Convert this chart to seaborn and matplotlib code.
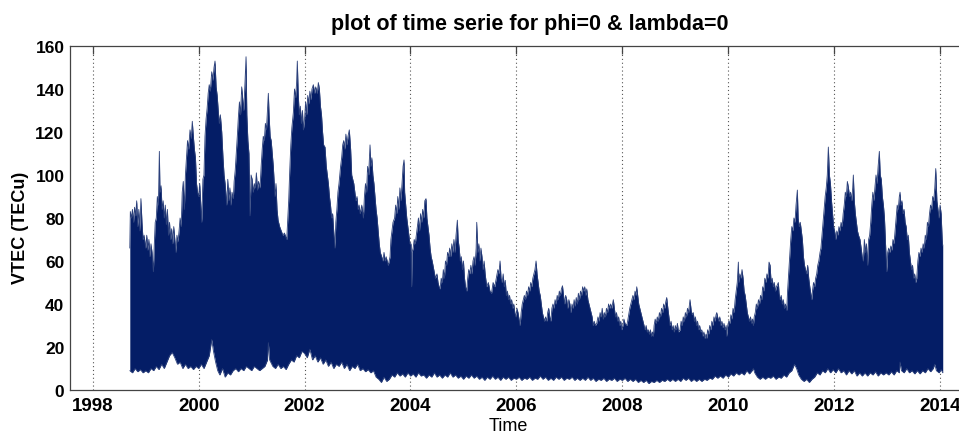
import numpy as np
import pandas as pd
import seaborn as sns
import matplotlib
matplotlib.use("Agg")
import matplotlib.pyplot as plt
from matplotlib import font_manager

# Upper envelope of the daily VTEC series (decimal year, TECu)
upper_envelope = [
    (1998.700, 66), (1998.710, 83), (1998.730, 80), (1998.750, 84), (1998.770, 78), (1998.790, 85),
    (1998.810, 81), (1998.830, 88), (1998.850, 76), (1998.870, 84), (1998.890, 74), (1998.910, 89),
    (1998.930, 78), (1998.950, 70), (1998.970, 72), (1999.000, 66), (1999.020, 72), (1999.040, 65),
    (1999.060, 70), (1999.080, 62), (1999.100, 68), (1999.120, 64), (1999.145, 55), (1999.160, 66),
    (1999.180, 78), (1999.200, 80), (1999.220, 90), (1999.240, 86), (1999.258, 111), (1999.270, 92),
    (1999.290, 95), (1999.310, 84), (1999.330, 88), (1999.350, 80), (1999.370, 86), (1999.390, 77),
    (1999.410, 84), (1999.430, 72), (1999.450, 78), (1999.470, 70), (1999.490, 75), (1999.510, 68),
    (1999.530, 76), (1999.550, 70), (1999.573, 64), (1999.590, 72), (1999.610, 69), (1999.630, 74),
    (1999.650, 80), (1999.670, 76), (1999.690, 92), (1999.710, 97), (1999.730, 84), (1999.750, 100),
    (1999.770, 108), (1999.790, 116), (1999.810, 112), (1999.837, 121), (1999.860, 117), (1999.880, 125),
    (1999.900, 118), (1999.920, 112), (1999.940, 108), (1999.960, 96), (1999.980, 92), (2000.000, 90),
    (2000.020, 96), (2000.040, 86), (2000.058, 78), (2000.080, 98), (2000.100, 100), (2000.120, 118),
    (2000.140, 126), (2000.160, 131), (2000.180, 138), (2000.200, 142), (2000.220, 139), (2000.247, 148),
    (2000.270, 144), (2000.290, 150), (2000.309, 153), (2000.330, 141), (2000.350, 137), (2000.370, 130),
    (2000.390, 124), (2000.410, 128), (2000.436, 120), (2000.460, 108), (2000.480, 100), (2000.500, 96),
    (2000.530, 86), (2000.550, 98), (2000.570, 88), (2000.590, 94), (2000.610, 86), (2000.630, 92),
    (2000.655, 89), (2000.670, 97), (2000.690, 102), (2000.710, 110), (2000.730, 118), (2000.750, 127),
    (2000.770, 134), (2000.790, 128), (2000.813, 141), (2000.830, 136), (2000.850, 130), (2000.870, 140),
    (2000.895, 155), (2000.910, 128), (2000.930, 116), (2000.950, 110), (2000.970, 81), (2000.990, 100),
    (2001.010, 98), (2001.030, 92), (2001.050, 96), (2001.070, 94), (2001.090, 101), (2001.110, 93),
    (2001.130, 97), (2001.159, 94), (2001.180, 104), (2001.200, 112), (2001.220, 118), (2001.240, 116),
    (2001.260, 124), (2001.280, 121), (2001.300, 130), (2001.316, 138), (2001.330, 128), (2001.350, 118),
    (2001.370, 116), (2001.390, 110), (2001.410, 104), (2001.442, 90), (2001.460, 96), (2001.480, 84),
    (2001.500, 79), (2001.530, 76), (2001.560, 74), (2001.590, 72), (2001.620, 73), (2001.663, 70),
    (2001.680, 78), (2001.700, 88), (2001.720, 102), (2001.740, 114), (2001.760, 122), (2001.788, 129),
    (2001.810, 140), (2001.830, 136), (2001.850, 143), (2001.863, 153), (2001.880, 138), (2001.900, 128),
    (2001.920, 132), (2001.940, 124), (2001.960, 130), (2001.977, 121), (2002.000, 126), (2002.020, 134),
    (2002.040, 128), (2002.060, 137), (2002.080, 133), (2002.100, 139), (2002.120, 135), (2002.140, 140),
    (2002.166, 142), (2002.190, 138), (2002.210, 141), (2002.240, 138), (2002.260, 143), (2002.280, 140),
    (2002.300, 132), (2002.320, 128), (2002.340, 120), (2002.360, 114), (2002.386, 113), (2002.410, 104),
    (2002.430, 100), (2002.450, 96), (2002.470, 90), (2002.490, 86), (2002.510, 80), (2002.530, 82),
    (2002.550, 74), (2002.575, 66), (2002.590, 78), (2002.610, 84), (2002.630, 92), (2002.650, 96),
    (2002.680, 104), (2002.700, 108), (2002.720, 114), (2002.740, 116), (2002.760, 112), (2002.780, 119),
    (2002.800, 114), (2002.820, 118), (2002.845, 121), (2002.870, 112), (2002.890, 100), (2002.910, 98),
    (2002.930, 96), (2002.950, 92), (2002.970, 88), (2002.990, 90), (2003.010, 84), (2003.030, 86),
    (2003.050, 82), (2003.080, 86), (2003.110, 80), (2003.130, 90), (2003.150, 96), (2003.170, 92),
    (2003.190, 104), (2003.210, 100), (2003.236, 114), (2003.250, 104), (2003.270, 108), (2003.290, 100),
    (2003.310, 96), (2003.330, 90), (2003.350, 84), (2003.370, 80), (2003.390, 74), (2003.410, 68),
    (2003.430, 64), (2003.457, 62), (2003.480, 60), (2003.500, 64), (2003.520, 60), (2003.540, 62),
    (2003.560, 60), (2003.580, 58), (2003.614, 62), (2003.630, 70), (2003.650, 74), (2003.670, 78),
    (2003.700, 80), (2003.720, 86), (2003.740, 82), (2003.760, 90), (2003.780, 84), (2003.800, 94),
    (2003.820, 88), (2003.840, 96), (2003.860, 104), (2003.878, 107), (2003.890, 92), (2003.910, 86),
    (2003.930, 80), (2003.950, 76), (2003.970, 72), (2003.990, 68), (2004.010, 68), (2004.020, 48),
    (2004.030, 64), (2004.050, 66), (2004.070, 70), (2004.090, 68), (2004.110, 72), (2004.130, 76),
    (2004.150, 80), (2004.170, 74), (2004.190, 82), (2004.210, 78), (2004.230, 84), (2004.250, 80),
    (2004.270, 88), (2004.293, 89), (2004.310, 80), (2004.330, 76), (2004.350, 72), (2004.370, 66),
    (2004.390, 62), (2004.410, 60), (2004.440, 56), (2004.470, 52), (2004.500, 54), (2004.520, 50),
    (2004.540, 48), (2004.558, 47), (2004.580, 52), (2004.600, 50), (2004.620, 56), (2004.640, 52),
    (2004.660, 60), (2004.680, 58), (2004.700, 64), (2004.720, 62), (2004.740, 66), (2004.760, 62),
    (2004.780, 68), (2004.800, 64), (2004.820, 70), (2004.840, 64), (2004.860, 72), (2004.885, 79),
    (2004.900, 70), (2004.920, 66), (2004.940, 60), (2004.960, 62), (2004.980, 56), (2005.000, 60),
    (2005.020, 52), (2005.040, 48), (2005.062, 46), (2005.080, 52), (2005.100, 56), (2005.120, 54),
    (2005.140, 58), (2005.160, 54), (2005.180, 60), (2005.200, 62), (2005.220, 58), (2005.240, 66),
    (2005.251, 78), (2005.270, 64), (2005.290, 68), (2005.310, 60), (2005.330, 66), (2005.350, 62),
    (2005.370, 56), (2005.390, 60), (2005.410, 54), (2005.440, 48), (2005.470, 50), (2005.500, 46),
    (2005.530, 45), (2005.560, 50), (2005.590, 48), (2005.620, 52), (2005.650, 56), (2005.670, 54),
    (2005.691, 60), (2005.710, 52), (2005.730, 50), (2005.750, 54), (2005.770, 48), (2005.790, 51),
    (2005.810, 44), (2005.830, 46), (2005.850, 42), (2005.870, 44), (2005.890, 40), (2005.910, 42),
    (2005.930, 38), (2005.950, 40), (2005.970, 36), (2005.990, 34), (2006.010, 38), (2006.030, 36),
    (2006.050, 33), (2006.069, 30), (2006.090, 36), (2006.110, 40), (2006.130, 42), (2006.150, 44),
    (2006.170, 42), (2006.190, 46), (2006.210, 44), (2006.230, 48), (2006.250, 46), (2006.270, 50),
    (2006.290, 48), (2006.310, 52), (2006.330, 54), (2006.350, 56), (2006.371, 60), (2006.390, 54),
    (2006.410, 50), (2006.430, 46), (2006.450, 44), (2006.470, 40), (2006.490, 36), (2006.510, 34),
    (2006.530, 32), (2006.550, 34), (2006.573, 32), (2006.590, 36), (2006.610, 38), (2006.630, 34),
    (2006.650, 32), (2006.670, 38), (2006.690, 40), (2006.710, 38), (2006.730, 42), (2006.750, 40),
    (2006.770, 44), (2006.790, 42), (2006.810, 46), (2006.830, 44), (2006.850, 47), (2006.870, 48.5),
    (2006.890, 44), (2006.910, 40), (2006.930, 44), (2006.950, 42), (2006.970, 38), (2006.990, 42),
    (2007.010, 40), (2007.030, 36), (2007.050, 40), (2007.070, 38), (2007.090, 42), (2007.107, 39),
    (2007.130, 43), (2007.150, 40), (2007.170, 45), (2007.190, 42), (2007.210, 46), (2007.230, 44),
    (2007.250, 48), (2007.270, 46), (2007.290, 48), (2007.310, 44), (2007.328, 47), (2007.350, 42),
    (2007.370, 40), (2007.390, 38), (2007.410, 36), (2007.430, 34), (2007.450, 30), (2007.470, 32),
    (2007.490, 30), (2007.517, 31), (2007.540, 34), (2007.560, 32), (2007.580, 36), (2007.600, 34),
    (2007.620, 38), (2007.640, 33), (2007.660, 36), (2007.680, 34), (2007.700, 38), (2007.720, 36),
    (2007.740, 40), (2007.760, 38), (2007.780, 40), (2007.800, 38), (2007.830, 42), (2007.850, 38),
    (2007.870, 34), (2007.890, 36), (2007.910, 32), (2007.930, 34), (2007.950, 30), (2007.970, 32),
    (2007.990, 28), (2008.010, 30), (2008.030, 33), (2008.050, 31), (2008.083, 30), (2008.100, 32),
    (2008.120, 35), (2008.140, 38), (2008.160, 40), (2008.180, 42), (2008.200, 44), (2008.220, 42),
    (2008.240, 46), (2008.260, 44), (2008.272, 48), (2008.290, 44), (2008.310, 40), (2008.330, 38),
    (2008.350, 36), (2008.370, 34), (2008.390, 32), (2008.410, 30), (2008.430, 28), (2008.450, 30),
    (2008.470, 27), (2008.490, 28), (2008.510, 26), (2008.530, 28), (2008.550, 25), (2008.570, 27),
    (2008.586, 25), (2008.600, 30), (2008.620, 33), (2008.640, 31), (2008.660, 34), (2008.680, 32),
    (2008.700, 36), (2008.720, 34), (2008.740, 38), (2008.760, 36), (2008.780, 40), (2008.800, 38),
    (2008.820, 41), (2008.838, 43), (2008.860, 38), (2008.880, 34), (2008.900, 30), (2008.920, 32),
    (2008.940, 28), (2008.960, 30), (2008.980, 27), (2009.000, 30), (2009.020, 28), (2009.040, 31),
    (2009.060, 27), (2009.090, 28), (2009.110, 32), (2009.130, 30), (2009.150, 34), (2009.170, 32),
    (2009.190, 36), (2009.210, 34), (2009.230, 38), (2009.250, 36), (2009.278, 42), (2009.300, 37),
    (2009.320, 35), (2009.340, 36), (2009.360, 32), (2009.380, 34), (2009.400, 30), (2009.420, 32),
    (2009.440, 28), (2009.460, 30), (2009.480, 27), (2009.500, 28), (2009.520, 25), (2009.540, 27),
    (2009.560, 24), (2009.580, 26), (2009.594, 24), (2009.610, 28), (2009.630, 26), (2009.650, 30),
    (2009.670, 28), (2009.690, 32), (2009.710, 30), (2009.730, 34), (2009.750, 32), (2009.770, 35),
    (2009.783, 36), (2009.800, 34), (2009.820, 32), (2009.840, 34), (2009.860, 30), (2009.880, 32),
    (2009.900, 29), (2009.920, 31), (2009.940, 28), (2009.960, 30), (2009.971, 25), (2009.990, 30),
    (2010.010, 32), (2010.030, 31), (2010.050, 35), (2010.070, 33), (2010.090, 38), (2010.110, 36),
    (2010.130, 42), (2010.150, 46), (2010.170, 50), (2010.191, 59.5), (2010.200, 50), (2010.220, 54),
    (2010.240, 52), (2010.260, 56), (2010.280, 52), (2010.300, 46), (2010.320, 44), (2010.340, 40),
    (2010.360, 36), (2010.380, 34), (2010.400, 32), (2010.420, 34), (2010.440, 31), (2010.460, 33),
    (2010.474, 30), (2010.490, 34), (2010.510, 36), (2010.530, 40), (2010.550, 38), (2010.570, 42),
    (2010.590, 40), (2010.610, 44), (2010.630, 42), (2010.650, 48), (2010.670, 46), (2010.690, 52),
    (2010.710, 50), (2010.730, 54), (2010.750, 52), (2010.770, 59.5), (2010.790, 58), (2010.810, 50),
    (2010.830, 52), (2010.850, 48), (2010.870, 50), (2010.890, 46), (2010.910, 48), (2010.946, 50),
    (2010.960, 45), (2010.980, 42), (2011.000, 44), (2011.020, 40), (2011.040, 42), (2011.060, 38),
    (2011.080, 40), (2011.104, 37), (2011.120, 46), (2011.140, 54), (2011.160, 62), (2011.180, 70),
    (2011.200, 76), (2011.220, 74), (2011.240, 80), (2011.260, 78), (2011.280, 86), (2011.305, 93),
    (2011.320, 80), (2011.340, 76), (2011.360, 78), (2011.380, 74), (2011.400, 70), (2011.420, 62),
    (2011.440, 58), (2011.460, 56), (2011.480, 54), (2011.500, 58), (2011.520, 52), (2011.540, 48),
    (2011.576, 42), (2011.590, 46), (2011.610, 50), (2011.630, 48), (2011.650, 52), (2011.670, 54),
    (2011.690, 58), (2011.710, 60), (2011.733, 64), (2011.750, 66), (2011.770, 72), (2011.790, 78),
    (2011.810, 84), (2011.830, 90), (2011.850, 94), (2011.870, 100), (2011.890, 113), (2011.910, 100),
    (2011.930, 96), (2011.950, 88), (2011.970, 82), (2011.990, 76), (2012.016, 73), (2012.030, 70),
    (2012.050, 74), (2012.070, 72), (2012.090, 76), (2012.110, 74), (2012.130, 78), (2012.150, 76),
    (2012.170, 82), (2012.190, 86), (2012.210, 92), (2012.230, 90), (2012.249, 97), (2012.270, 94),
    (2012.290, 90), (2012.310, 92), (2012.330, 88), (2012.350, 94), (2012.362, 100), (2012.380, 88),
    (2012.400, 82), (2012.420, 78), (2012.440, 74), (2012.460, 72), (2012.488, 70), (2012.510, 66),
    (2012.530, 62), (2012.550, 60), (2012.570, 70), (2012.590, 64), (2012.610, 68), (2012.630, 58),
    (2012.650, 70), (2012.670, 72), (2012.690, 78), (2012.710, 86), (2012.730, 92), (2012.750, 88),
    (2012.772, 95), (2012.790, 100), (2012.810, 96), (2012.830, 104), (2012.853, 111), (2012.870, 100),
    (2012.890, 98), (2012.910, 90), (2012.930, 86), (2012.950, 80), (2012.970, 68), (2012.993, 55),
    (2013.010, 64), (2013.030, 66), (2013.050, 64), (2013.070, 67), (2013.090, 65), (2013.110, 70),
    (2013.130, 68), (2013.150, 74), (2013.170, 80), (2013.190, 86), (2013.210, 84), (2013.230, 90),
    (2013.244, 92), (2013.260, 86), (2013.280, 88), (2013.300, 82), (2013.320, 84), (2013.340, 78),
    (2013.360, 76), (2013.380, 70), (2013.400, 72), (2013.420, 64), (2013.440, 60), (2013.460, 56),
    (2013.480, 58), (2013.500, 52), (2013.520, 54), (2013.540, 50), (2013.559, 52), (2013.580, 60),
    (2013.600, 64), (2013.620, 62), (2013.640, 66), (2013.660, 64), (2013.680, 68), (2013.700, 66),
    (2013.720, 72), (2013.740, 70), (2013.760, 78), (2013.780, 76), (2013.800, 82), (2013.820, 86),
    (2013.840, 84), (2013.860, 90), (2013.880, 88), (2013.900, 94), (2013.918, 103), (2013.940, 88),
    (2013.960, 84), (2013.980, 80), (2014.000, 86), (2014.020, 82), (2014.040, 70), (2014.050, 67),
]

# Lower envelope of the same series (decimal year, TECu)
lower_envelope = [
    (1998.700, 9), (1998.750, 8), (1998.800, 10), (1998.850, 8.5), (1998.900, 9.5), (1998.950, 8),
    (1999.000, 9), (1999.050, 8), (1999.100, 10), (1999.150, 9), (1999.200, 11), (1999.250, 9.5),
    (1999.300, 12), (1999.350, 10), (1999.400, 13), (1999.450, 16), (1999.500, 17.5), (1999.550, 15),
    (1999.600, 12), (1999.650, 13), (1999.700, 10), (1999.750, 12), (1999.800, 10), (1999.850, 11),
    (1999.900, 9.5), (1999.950, 11), (2000.000, 10), (2000.050, 12), (2000.100, 10), (2000.150, 13),
    (2000.200, 16), (2000.247, 23.5), (2000.280, 18), (2000.320, 13), (2000.360, 9), (2000.400, 7),
    (2000.450, 10), (2000.500, 6), (2000.550, 8), (2000.600, 7), (2000.650, 9), (2000.700, 10),
    (2000.750, 8.5), (2000.800, 10), (2000.850, 9), (2000.900, 11), (2000.950, 10), (2001.000, 9),
    (2001.050, 11), (2001.100, 10), (2001.150, 9), (2001.200, 10), (2001.250, 11), (2001.300, 14),
    (2001.316, 22), (2001.340, 14), (2001.400, 11), (2001.450, 10), (2001.500, 12), (2001.550, 10),
    (2001.600, 11), (2001.650, 9.5), (2001.700, 12), (2001.750, 14), (2001.800, 13), (2001.850, 16),
    (2001.900, 15), (2001.950, 18), (2002.000, 17), (2002.050, 15), (2002.100, 19), (2002.150, 14),
    (2002.200, 16), (2002.250, 13), (2002.300, 15), (2002.350, 12), (2002.400, 14), (2002.450, 11),
    (2002.500, 13), (2002.550, 10), (2002.600, 12), (2002.650, 11), (2002.700, 13), (2002.750, 10),
    (2002.800, 12), (2002.850, 9), (2002.900, 11), (2002.950, 10), (2003.000, 12), (2003.050, 9),
    (2003.100, 10), (2003.150, 8.5), (2003.200, 9.5), (2003.250, 8), (2003.300, 9), (2003.350, 6),
    (2003.400, 5), (2003.450, 3.5), (2003.500, 6), (2003.550, 4), (2003.600, 5), (2003.650, 7),
    (2003.700, 6), (2003.750, 8), (2003.800, 6.5), (2003.850, 7.5), (2003.900, 6), (2003.950, 8),
    (2004.000, 6.5), (2004.050, 7.5), (2004.100, 6), (2004.150, 8), (2004.200, 6.5), (2004.250, 7),
    (2004.300, 5.5), (2004.350, 7), (2004.400, 6), (2004.450, 8), (2004.500, 6), (2004.550, 7),
    (2004.600, 5.5), (2004.650, 7), (2004.700, 6), (2004.750, 8), (2004.800, 6), (2004.850, 7),
    (2004.900, 5.5), (2004.950, 6.5), (2005.000, 5), (2005.050, 6.5), (2005.100, 5.5), (2005.150, 7),
    (2005.200, 5.5), (2005.250, 6.5), (2005.300, 5), (2005.350, 6), (2005.400, 4.5), (2005.450, 6),
    (2005.500, 5), (2005.550, 6.5), (2005.600, 5), (2005.650, 6), (2005.700, 4.5), (2005.750, 6),
    (2005.800, 5), (2005.850, 6), (2005.900, 4.5), (2005.950, 5.5), (2006.000, 5), (2006.050, 6),
    (2006.100, 4.5), (2006.150, 5.5), (2006.200, 5), (2006.250, 6), (2006.300, 4.5), (2006.350, 5.5),
    (2006.400, 5), (2006.450, 6.5), (2006.500, 5), (2006.550, 6), (2006.600, 4.5), (2006.650, 5.5),
    (2006.700, 4.5), (2006.750, 6), (2006.800, 5), (2006.850, 6), (2006.900, 4.5), (2006.950, 5.5),
    (2007.000, 5), (2007.050, 6), (2007.100, 4.5), (2007.150, 5.5), (2007.200, 4.5), (2007.250, 5.5),
    (2007.300, 4.5), (2007.350, 6), (2007.400, 4.5), (2007.450, 5.5), (2007.500, 4), (2007.550, 5),
    (2007.600, 4.5), (2007.650, 5.5), (2007.700, 4), (2007.750, 5), (2007.800, 4.5), (2007.850, 5.5),
    (2007.900, 4), (2007.950, 5), (2008.000, 4.5), (2008.050, 5.5), (2008.100, 4), (2008.150, 5),
    (2008.200, 4), (2008.250, 5), (2008.300, 3.5), (2008.350, 4.5), (2008.400, 3.5), (2008.450, 4.5),
    (2008.500, 3), (2008.550, 4), (2008.600, 3.5), (2008.650, 4.5), (2008.700, 3.5), (2008.750, 4.5),
    (2008.800, 4), (2008.850, 5), (2008.900, 4), (2008.950, 5), (2009.000, 4), (2009.050, 5),
    (2009.100, 4), (2009.150, 5.5), (2009.200, 4.5), (2009.250, 5.5), (2009.300, 4), (2009.350, 5),
    (2009.400, 4), (2009.450, 5), (2009.500, 4), (2009.550, 5), (2009.600, 4.5), (2009.650, 5.5),
    (2009.700, 5), (2009.750, 6.5), (2009.800, 5.5), (2009.850, 6.5), (2009.900, 5.5), (2009.950, 7),
    (2010.000, 6), (2010.050, 7.5), (2010.100, 6.5), (2010.150, 8), (2010.200, 7), (2010.250, 8),
    (2010.300, 7), (2010.350, 9), (2010.400, 7.5), (2010.450, 9), (2010.474, 10), (2010.500, 8),
    (2010.550, 6), (2010.600, 5), (2010.650, 6), (2010.700, 5), (2010.750, 6), (2010.800, 5.5),
    (2010.850, 6.5), (2010.900, 5), (2010.950, 6), (2011.000, 5.5), (2011.050, 7), (2011.100, 6),
    (2011.150, 8), (2011.200, 9), (2011.250, 12), (2011.290, 10), (2011.330, 7), (2011.380, 5),
    (2011.430, 4), (2011.480, 5), (2011.530, 3.5), (2011.580, 5), (2011.630, 6), (2011.680, 8),
    (2011.730, 7), (2011.780, 9), (2011.830, 8), (2011.880, 10), (2011.930, 8), (2011.980, 9.5),
    (2012.030, 8), (2012.080, 10), (2012.130, 8), (2012.180, 9), (2012.230, 7), (2012.280, 9),
    (2012.330, 7.5), (2012.380, 9), (2012.430, 6.5), (2012.480, 8), (2012.530, 6.5), (2012.580, 8),
    (2012.630, 6.5), (2012.680, 8), (2012.730, 7), (2012.780, 8.5), (2012.830, 6.5), (2012.880, 8),
    (2012.930, 7), (2012.980, 8), (2013.030, 7), (2013.080, 8.5), (2013.130, 7), (2013.180, 9),
    (2013.230, 8), (2013.244, 13), (2013.270, 9), (2013.320, 8), (2013.370, 10), (2013.420, 8),
    (2013.470, 9), (2013.520, 7.5), (2013.570, 9), (2013.620, 7.5), (2013.670, 9), (2013.720, 8),
    (2013.770, 10), (2013.820, 8.5), (2013.870, 10), (2013.900, 12), (2013.930, 9), (2013.980, 8),
    (2014.020, 9.5), (2014.050, 8),
]

year_ticks = [1998, 2000, 2002, 2004, 2006, 2008, 2010, 2012, 2014]
tec_ticks = [0, 20, 40, 60, 80, 100, 120, 140, 160]

upper = pd.DataFrame(upper_envelope, columns=["year", "tec"])
lower = pd.DataFrame(lower_envelope, columns=["year", "tec"])

sns.set_theme(style="white")
plt.rcParams["font.family"] = ["Liberation Sans", "DejaVu Sans"]
for key in ["text.color", "axes.labelcolor", "xtick.labelcolor", "ytick.labelcolor"]:
    plt.rcParams[key] = "black"

installed = {f.name for f in font_manager.fontManager.ttflist}
has_narrow = "Liberation Sans Narrow" in installed
xtick_family = "Liberation Sans Narrow" if has_narrow else "Liberation Sans"
xtick_size = 15 if has_narrow else 13.5

W, H = 959, 435
fig = plt.figure(figsize=(W / 100, H / 100), dpi=100)
fig.patch.set_facecolor("white")

ax_left, ax_right, ax_top, ax_bottom = 70, 990, 47, 391
ax = fig.add_axes([ax_left / W, (H - ax_bottom) / H,
                   (ax_right - ax_left) / W, (ax_bottom - ax_top) / H])
ax.set_facecolor("white")

navy = "#041d66"

# common time base for filling between the two envelopes
t = np.union1d(upper["year"].to_numpy(), lower["year"].to_numpy())
up = np.interp(t, upper["year"], upper["tec"])
lo = np.interp(t, lower["year"], lower["tec"])
ax.fill_between(t, lo, up, color=navy, linewidth=0, zorder=2)
sns.lineplot(data=upper, x="year", y="tec", sort=False, estimator=None,
             color="#2a3f7a", linewidth=0.6, ax=ax, zorder=3)
sns.lineplot(data=lower, x="year", y="tec", sort=False, estimator=None,
             color="#2a3f7a", linewidth=0.6, ax=ax, zorder=3)

x0 = 1997.571
px_per_year = 52.96
ax.set_xlim(x0, x0 + (ax_right - ax_left) / px_per_year)
ax.set_ylim(0, 160)
ax.set_xticks(year_ticks)
ax.set_yticks(tec_ticks)
ax.set_xticklabels([str(y) for y in year_ticks], fontfamily=xtick_family,
                   fontweight="bold", fontsize=xtick_size, color="black")
ax.set_yticklabels([str(v) for v in tec_ticks], fontweight="bold",
                   fontsize=12.5, color="black")

ax.set_axisbelow(True)
ax.grid(axis="x", linestyle=(0, (1, 2.5)), color="#555555", linewidth=0.8, zorder=0)
ax.grid(axis="y", visible=False)

ax.tick_params(axis="both", direction="in", length=6, width=0.9, color="#444444",
               top=True, right=True)
ax.tick_params(axis="x", pad=5)
ax.tick_params(axis="y", pad=4)
for side in ["left", "bottom", "top", "right"]:
    ax.spines[side].set_color("#444444")
    ax.spines[side].set_linewidth(0.9)

ax.set_xlabel("")
ax.set_ylabel("")
ax.set_title("plot of time serie for phi=0 & lambda=0", fontsize=15.5,
             fontweight="bold", pad=12, color="black")

fig.text(508 / W, (H - 431) / H, "Time", fontsize=13, ha="center",
         va="baseline", color="black")
fig.text(21 / W, 1 - 228 / H, "VTEC (TECu)", fontsize=13, fontweight="bold",
         rotation=90, ha="center", va="center", color="black")

fig.savefig("out.png", dpi=100, facecolor="white")
